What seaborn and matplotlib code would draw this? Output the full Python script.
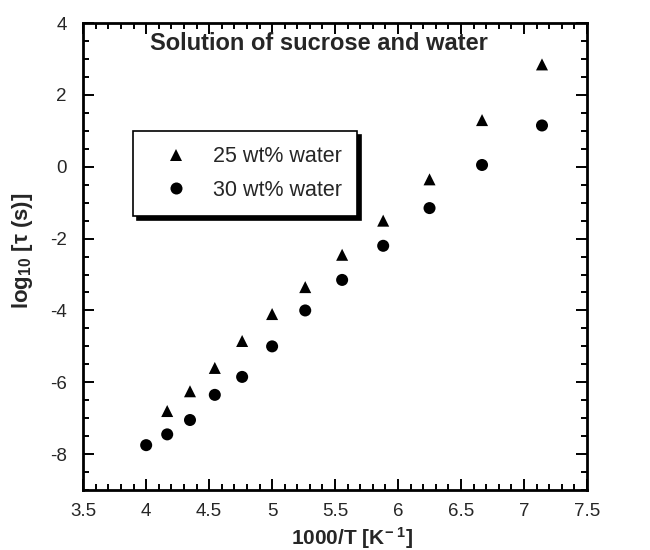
import matplotlib
matplotlib.use("Agg")
import matplotlib.pyplot as plt
import seaborn as sns
import pandas as pd
from matplotlib.ticker import MultipleLocator

sns.set_style("ticks")
plt.rcParams['font.family'] = ['Liberation Sans', 'DejaVu Sans']
plt.rcParams['mathtext.fontset'] = 'custom'
plt.rcParams['mathtext.rm'] = 'Liberation Sans:bold'
plt.rcParams['mathtext.it'] = 'Liberation Sans:italic:bold'
plt.rcParams['mathtext.bf'] = 'Liberation Sans:bold'
plt.rcParams['axes.unicode_minus'] = False

x_25 = [4.167, 4.348, 4.545, 4.762, 5.0, 5.263, 5.556, 5.882, 6.25, 6.667, 7.143]
y_25 = [-6.8, -6.25, -5.6, -4.85, -4.1, -3.35, -2.45, -1.5, -0.35, 1.3, 2.85]
x_30 = [4.0, 4.167, 4.348, 4.545, 4.762, 5.0, 5.263, 5.556, 5.882, 6.25, 6.667, 7.143]
y_30 = [-7.75, -7.45, -7.05, -6.35, -5.85, -5.0, -4.0, -3.15, -2.2, -1.15, 0.05, 1.15]
labels = ["25 wt% water", "30 wt% water"]
xtick_vals = [3.5, 4, 4.5, 5, 5.5, 6, 6.5, 7, 7.5]
xtick_labels = ["3.5", "4", "4.5", "5", "5.5", "6", "6.5", "7", "7.5"]

df = pd.concat([
    pd.DataFrame({"x": x_25, "y": y_25, "series": labels[0]}),
    pd.DataFrame({"x": x_30, "y": y_30, "series": labels[1]}),
])

fig = plt.figure(figsize=(6.5, 5.5), dpi=100)
ax = fig.add_axes([0.128, 0.109, 0.775, 0.849])

sns.scatterplot(data=df, x="x", y="y", hue="series", style="series",
                markers={labels[0]: "^", labels[1]: "o"},
                palette={labels[0]: "black", labels[1]: "black"},
                s=75, edgecolor="black", linewidth=0, ax=ax)

ax.set_xlim(3.5, 7.5)
ax.set_ylim(-9, 4)
ax.xaxis.set_minor_locator(MultipleLocator(0.1))
ax.yaxis.set_major_locator(MultipleLocator(2))
ax.yaxis.set_minor_locator(MultipleLocator(0.5))
ax.set_xticks(xtick_vals)
ax.set_xticklabels(xtick_labels)
ax.tick_params(which="both", direction="in", top=True, right=True, width=1.4,
               labelsize=13.5, color="black")
ax.tick_params(axis="x", which="major", pad=9)
ax.tick_params(axis="y", which="major", pad=12)
ax.tick_params(which="major", length=8)
ax.tick_params(which="minor", length=4.5)
for sp in ax.spines.values():
    sp.set_linewidth(2)
    sp.set_color("black")

ax.set_xlabel(r"1000/T [K$^{-\ 1}$]", fontsize=15, fontweight="bold")
ax.xaxis.set_label_coords(0.534, -0.074)
ax.set_ylabel(r"log$_{10}$ [τ (s)]", fontsize=16, fontweight="bold")
ax.yaxis.set_label_coords(-0.095, 0.513)

ax.text(4.03, 3.43, "Solution of sucrose and water", fontsize=17, fontweight="bold",
        ha="left", va="center")

leg = ax.legend(loc="upper left", bbox_to_anchor=(0.099, 0.769), frameon=True, fancybox=False,
                shadow={"color": "black", "alpha": 1.0, "ox": 3, "oy": -3},
                fontsize=15.5, handletextpad=0.4, borderpad=0.7, labelspacing=0.6,
                handlelength=2.6, borderaxespad=0)
leg.get_frame().set_edgecolor("black")
leg.get_frame().set_linewidth(1.2)

fig.savefig("out.png", dpi=100)
